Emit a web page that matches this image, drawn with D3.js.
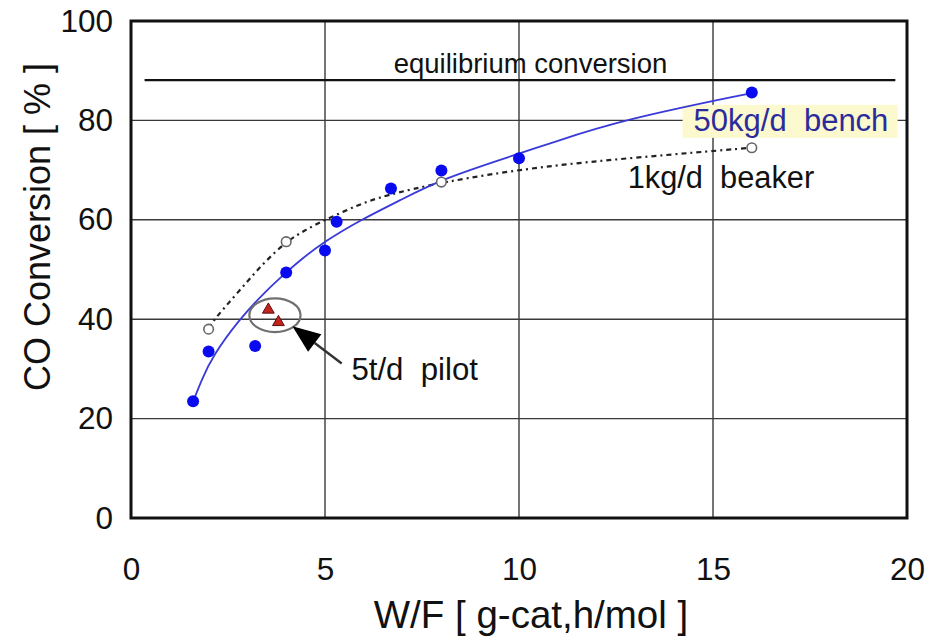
<!DOCTYPE html>
<html>
<head>
<meta charset="utf-8">
<script src="https://cdn.jsdelivr.net/npm/d3@7"></script>
<style>
  html, body { margin: 0; padding: 0; background: #fff; }
  svg { display: block; font-family: "Liberation Sans", Arial, sans-serif; }
  text { white-space: pre; }
</style>
</head>
<body>
<svg id="chart" width="931" height="641"></svg>
<script>
// Axis ticks
const xTicks = [0, 5, 10, 15, 20];
const yTicks = [0, 20, 40, 60, 80, 100];

// Measured points [W/F, CO conversion %]
const bench50kg = [[1.6, 23.5], [2.0, 33.5], [3.2, 34.6], [4.0, 49.4], [5.0, 53.8],
                   [5.3, 59.6], [6.7, 66.3], [8.0, 69.9], [10.0, 72.4], [16.0, 85.6]];
const beaker1kg = [[2.0, 38.0], [4.0, 55.6], [8.0, 67.6], [16.0, 74.5]];
const pilot5t = [[3.54, 41.9], [3.80, 39.4]];

// Trend curves drawn through the data
const benchCurve = [[1.6, 23.4], [1.82, 27.8], [2.1, 32.5], [2.77, 39.8], [3.5, 45.9],
                    [4.0, 49.4], [4.36, 51.9], [5.0, 55.7], [5.9, 59.9], [6.93, 63.9],
                    [8.0, 68.2], [10.0, 73.3], [10.8, 75.4], [12.7, 80.2], [16.0, 85.5]];
const beakerCurve = [[2.0, 38.2], [2.17, 40.2], [2.81, 45.9], [3.4, 51.2], [4.0, 55.6],
                     [4.48, 57.9], [4.95, 59.8], [5.85, 63.0], [6.5, 64.8], [8.0, 67.6],
                     [10.5, 70.7], [13.1, 72.6], [16.0, 74.5]];

// Equilibrium conversion level and its x extent
const equilibrium = 88.1;
const equilibriumRange = [0.35, 19.7];

// Annotation anchors (data units)
const pilotEllipse = { cx: 3.71, cy: 40.8, rx: 0.66, ry: 3.4 };
const pilotArrow = { from: [5.43, 31.1], to: [4.16, 38.6] };
const labels = [
  { text: "equilibrium conversion", at: [6.77, 89.5], size: 27.5, color: "#111" },
  { text: "50kg/d  bench", at: [14.5, 77.9], size: 31, color: "#2b2b9c", box: "#fcf9cf" },
  { text: "1kg/d  beaker", at: [12.8, 66.4], size: 30.8, color: "#111" },
  { text: "5t/d  pilot", at: [5.68, 27.7], size: 31.2, color: "#111" }
];

const svg = d3.select("#chart");
const margin = { top: 21, right: 24, bottom: 123, left: 131 };
const W = 931, H = 641;
const iw = W - margin.left - margin.right;
const ih = H - margin.top - margin.bottom;

const x = d3.scaleLinear().domain([0, 20]).range([margin.left, margin.left + iw]);
const y = d3.scaleLinear().domain([0, 100]).range([margin.top + ih, margin.top]);

// Grid lines
const grid = svg.append("g").attr("stroke", "#3a3a3a").attr("stroke-width", 1.4);
grid.selectAll("line.vx").data(xTicks.slice(1, -1)).join("line")
  .attr("x1", d => x(d)).attr("x2", d => x(d))
  .attr("y1", y(0)).attr("y2", y(100));
grid.selectAll("line.hy").data(yTicks.slice(1, -1)).join("line")
  .attr("x1", x(0)).attr("x2", x(20))
  .attr("y1", d => y(d)).attr("y2", d => y(d));

// Axes (tick labels only; frame drawn separately)
const xAxis = svg.append("g")
  .attr("transform", `translate(0,${y(0)})`)
  .call(d3.axisBottom(x).tickValues(xTicks).tickSize(0).tickPadding(40));
const yAxis = svg.append("g")
  .attr("transform", `translate(${x(0)},0)`)
  .call(d3.axisLeft(y).tickValues(yTicks).tickSize(0).tickPadding(18));
[xAxis, yAxis].forEach(a => {
  a.select(".domain").remove();
  a.selectAll("text").attr("font-size", 31.5).attr("fill", "#111")
    .attr("font-family", "'Liberation Sans', Arial, sans-serif");
});

// Equilibrium line
svg.append("line")
  .attr("x1", x(equilibriumRange[0])).attr("x2", x(equilibriumRange[1]))
  .attr("y1", y(equilibrium)).attr("y2", y(equilibrium))
  .attr("stroke", "#111").attr("stroke-width", 2.2);

// Label backdrop for the bench series
labels.filter(l => l.box).forEach(l => {
  svg.append("rect")
    .attr("x", x(l.at[0]) - 11).attr("y", y(l.at[1]) - 26)
    .attr("width", 215).attr("height", 33)
    .attr("fill", l.box);
});

// Trend curves
const line = d3.line().x(d => x(d[0])).y(d => y(d[1])).curve(d3.curveBasis);
svg.append("path").datum(beakerCurve).attr("d", line)
  .attr("fill", "none").attr("stroke", "#222").attr("stroke-width", 2.2)
  .attr("stroke-dasharray", "5,4,2,4");
svg.append("path").datum(benchCurve).attr("d", line)
  .attr("fill", "none").attr("stroke", "#3a3ad8").attr("stroke-width", 1.8);

// Points
svg.append("g").selectAll("circle").data(beaker1kg).join("circle")
  .attr("cx", d => x(d[0])).attr("cy", d => y(d[1])).attr("r", 4.8)
  .attr("fill", "#fff").attr("stroke", "#666").attr("stroke-width", 1.6);
svg.append("g").selectAll("circle").data(bench50kg).join("circle")
  .attr("cx", d => x(d[0])).attr("cy", d => y(d[1])).attr("r", 6)
  .attr("fill", "#0a0af0");
svg.append("g").selectAll("path").data(pilot5t).join("path")
  .attr("d", d3.symbol(d3.symbolTriangle, 60))
  .attr("transform", d => `translate(${x(d[0])},${y(d[1])})`)
  .attr("fill", "#c0241c").attr("stroke", "#5a1010").attr("stroke-width", 1);

// Pilot highlight ellipse
svg.append("ellipse")
  .attr("cx", x(pilotEllipse.cx)).attr("cy", y(pilotEllipse.cy))
  .attr("rx", x(pilotEllipse.cx + pilotEllipse.rx) - x(pilotEllipse.cx))
  .attr("ry", y(pilotEllipse.cy) - y(pilotEllipse.cy + pilotEllipse.ry))
  .attr("fill", "none").attr("stroke", "#707070").attr("stroke-width", 2.2);

// Arrow pointing at the pilot points
{
  const [x1, y1] = [x(pilotArrow.from[0]), y(pilotArrow.from[1])];
  const [x2, y2] = [x(pilotArrow.to[0]), y(pilotArrow.to[1])];
  const ang = Math.atan2(y2 - y1, x2 - x1);
  const len = 28, half = 11;
  const bx = x2 - len * Math.cos(ang), by = y2 - len * Math.sin(ang);
  svg.append("line").attr("x1", x1).attr("y1", y1).attr("x2", bx).attr("y2", by)
    .attr("stroke", "#333").attr("stroke-width", 2.4);
  const px = -Math.sin(ang) * half, py = Math.cos(ang) * half;
  svg.append("path")
    .attr("d", `M${x2},${y2}L${bx + px},${by + py}L${bx - px},${by - py}Z`)
    .attr("fill", "#000");
}

// Frame
svg.append("rect")
  .attr("x", x(0)).attr("y", y(100))
  .attr("width", x(20) - x(0)).attr("height", y(0) - y(100))
  .attr("fill", "none").attr("stroke", "#111").attr("stroke-width", 3);

// Series labels
svg.append("g").selectAll("text").data(labels).join("text")
  .attr("x", d => x(d.at[0])).attr("y", d => y(d.at[1]))
  .attr("font-size", d => d.size).attr("fill", d => d.color)
  .text(d => d.text);

// Axis titles
svg.append("text")
  .attr("x", 531).attr("y", 628).attr("text-anchor", "middle")
  .attr("font-size", 38.5).attr("fill", "#111")
  .text("W/F [ g-cat,h/mol ]");
svg.append("text")
  .attr("transform", "translate(50,227) rotate(-90)").attr("text-anchor", "middle")
  .attr("font-size", 36).attr("fill", "#111")
  .text("CO Conversion [ % ]");
</script>
</body>
</html>
